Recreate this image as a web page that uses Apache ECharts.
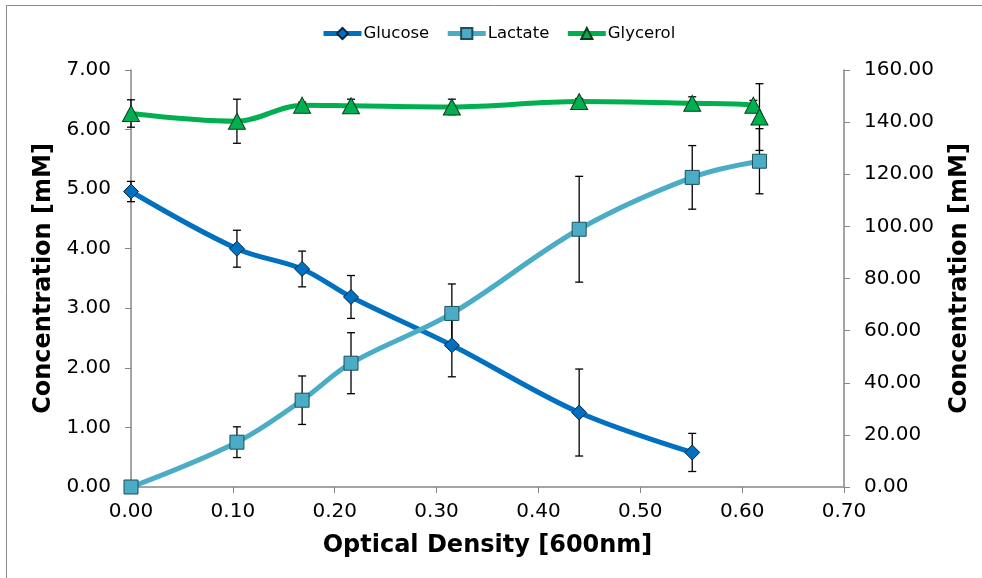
<!DOCTYPE html>
<html>
<head>
<meta charset="utf-8">
<script src="https://cdn.jsdelivr.net/npm/echarts@6/dist/echarts.min.js"></script>
<style>
  html, body { margin: 0; padding: 0; background: #ffffff; }
  #chart { width: 982px; height: 578px; }
</style>
</head>
<body>
<div id="chart"></div>
<script>
// Optical density of each sample
const odMain = [0, 0.104, 0.168, 0.216, 0.315, 0.440, 0.551, 0.617];
const odGlycerol = [0, 0.104, 0.168, 0.216, 0.315, 0.440, 0.551, 0.611, 0.617];

// Concentrations [mM] with standard deviations
const glucose = [4.96, 4.00, 3.66, 3.19, 2.38, 1.25, 0.58];
const glucoseErr = [0.17, 0.31, 0.30, 0.36, 0.53, 0.73, 0.32];

const lactate = [0, 17.2, 33.3, 47.5, 66.6, 98.9, 118.8, 125.0];
const lactateErr = [0, 5.9, 9.3, 11.7, 11.3, 20.3, 12.2, 12.5];

const glycerol = [6.27, 6.14, 6.41, 6.40, 6.38, 6.47, 6.44, 6.41, 6.21];
const glycerolErr = [0.23, 0.37, 0.05, 0.11, 0.13, 0.05, 0.11, 0.08, 0.56];

const xTicks = ['0.00', '0.10', '0.20', '0.30', '0.40', '0.50', '0.60', '0.70'];

const FONT = 'DejaVu Sans';
const AXIS_GREY = '#868686';

function pairs(xs, ys) {
  return ys.map((v, i) => [xs[i], v]);
}
function errTriples(xs, ys, es) {
  return ys.map((v, i) => [xs[i], v, es[i]]);
}

// Vertical error bar with caps
function renderErr(params, api) {
  const x = api.value(0), y = api.value(1), e = api.value(2);
  if (!e) return null;
  const top = api.coord([x, y + e]);
  const bot = api.coord([x, y - e]);
  const cap = 4;
  const style = { stroke: '#000000', lineWidth: 1.3 };
  return {
    type: 'group',
    children: [
      { type: 'line', shape: { x1: top[0], y1: top[1], x2: bot[0], y2: bot[1] }, style },
      { type: 'line', shape: { x1: top[0] - cap, y1: top[1], x2: top[0] + cap, y2: top[1] }, style },
      { type: 'line', shape: { x1: bot[0] - cap, y1: bot[1], x2: bot[0] + cap, y2: bot[1] }, style }
    ]
  };
}

const seriesDefs = [
  { name: 'Glucose', xs: odMain, ys: glucose, es: glucoseErr, axis: 0, color: '#0070C0',
    symbol: 'diamond', size: 15, border: '#0a2540' },
  { name: 'Lactate', xs: odMain, ys: lactate, es: lactateErr, axis: 1, color: '#4BACC6',
    symbol: 'rect', size: 14, border: '#1f4f5c' },
  { name: 'Glycerol', xs: odGlycerol, ys: glycerol, es: glycerolErr, axis: 0, color: '#00B050',
    symbol: 'triangle', size: [17, 16], border: '#0b3d1d' }
];

const series = [];
seriesDefs.forEach(d => {
  series.push({
    name: d.name, type: 'line', yAxisIndex: d.axis,
    data: pairs(d.xs, d.ys), smooth: 0.35,
    symbol: d.symbol, symbolSize: d.size, showSymbol: false,
    lineStyle: { color: d.color, width: 5 },
    itemStyle: { color: d.color, borderColor: d.border, borderWidth: 1 },
    z: 2, animation: false
  });
});
seriesDefs.forEach(d => {
  series.push({
    name: d.name, type: 'custom', yAxisIndex: d.axis,
    data: errTriples(d.xs, d.ys, d.es), renderItem: renderErr,
    z: 3, animation: false, silent: true
  });
});
seriesDefs.forEach(d => {
  series.push({
    name: d.name, type: 'scatter', yAxisIndex: d.axis,
    data: pairs(d.xs, d.ys), symbol: d.symbol, symbolSize: d.size,
    itemStyle: { color: d.color, borderColor: d.border, borderWidth: 1, opacity: 1 },
    z: 4, animation: false
  });
});

const chart = echarts.init(document.getElementById('chart'), null, { renderer: 'canvas' });
chart.setOption({
  backgroundColor: '#ffffff',
  animation: false,
  textStyle: { fontFamily: FONT },
  graphic: [
    { type: 'line', silent: true, shape: { x1: 6.5, y1: 5.5, x2: 982, y2: 5.5 },
      style: { stroke: '#8a8a8a', lineWidth: 1 } },
    { type: 'line', silent: true, shape: { x1: 6.5, y1: 5.5, x2: 6.5, y2: 578 },
      style: { stroke: '#8a8a8a', lineWidth: 1 } }
  ],
  legend: {
    data: seriesDefs.map(d => d.name),
    top: 25, left: 321, padding: 0,
    itemWidth: 38, itemHeight: 14, itemGap: 16,
    lineStyle: { width: 5 },
    textStyle: { fontFamily: FONT, fontSize: 16.5, color: '#000', padding: [0, 0, 0, -3] }
  },
  grid: { left: 131, right: 138, top: 70, bottom: 91 },
  xAxis: {
    type: 'value', min: 0, max: 0.7, interval: 0.1,
    name: 'Optical Density [600nm]', nameLocation: 'middle', nameGap: 47,
    nameTextStyle: { fontFamily: FONT, fontSize: 24, fontWeight: 'bold', color: '#000' },
    axisLine: { lineStyle: { color: AXIS_GREY, width: 1.5 } },
    axisTick: { show: true, length: 6, lineStyle: { color: AXIS_GREY } },
    axisLabel: { margin: 15, fontSize: 20, color: '#000', fontFamily: FONT,
      formatter: v => xTicks[Math.round(v * 10)] },
    splitLine: { show: false }
  },
  yAxis: [{
    type: 'value', min: 0, max: 7, interval: 1, position: 'left',
    name: 'Concentration [mM]', nameLocation: 'middle', nameGap: 68, nameRotate: 90,
    nameTextStyle: { fontFamily: FONT, fontSize: 24, fontWeight: 'bold', color: '#000' },
    axisLine: { show: true, lineStyle: { color: AXIS_GREY, width: 1.5 } },
    axisTick: { show: true, length: 6, lineStyle: { color: AXIS_GREY } },
    axisLabel: { margin: 20, fontSize: 20, color: '#000', fontFamily: FONT,
      formatter: v => v.toFixed(2) },
    splitLine: { show: false }
  }, {
    type: 'value', min: 0, max: 160, interval: 20, position: 'right',
    name: 'Concentration [mM]', nameLocation: 'middle', nameGap: 104, nameRotate: 90,
    nameTextStyle: { fontFamily: FONT, fontSize: 24, fontWeight: 'bold', color: '#000' },
    axisLine: { show: true, lineStyle: { color: AXIS_GREY, width: 1.5 } },
    axisTick: { show: true, length: 6, lineStyle: { color: AXIS_GREY } },
    axisLabel: { margin: 20, fontSize: 20, color: '#000', fontFamily: FONT,
      formatter: v => v.toFixed(2) },
    splitLine: { show: false }
  }],
  series: series
});
</script>
</body>
</html>
